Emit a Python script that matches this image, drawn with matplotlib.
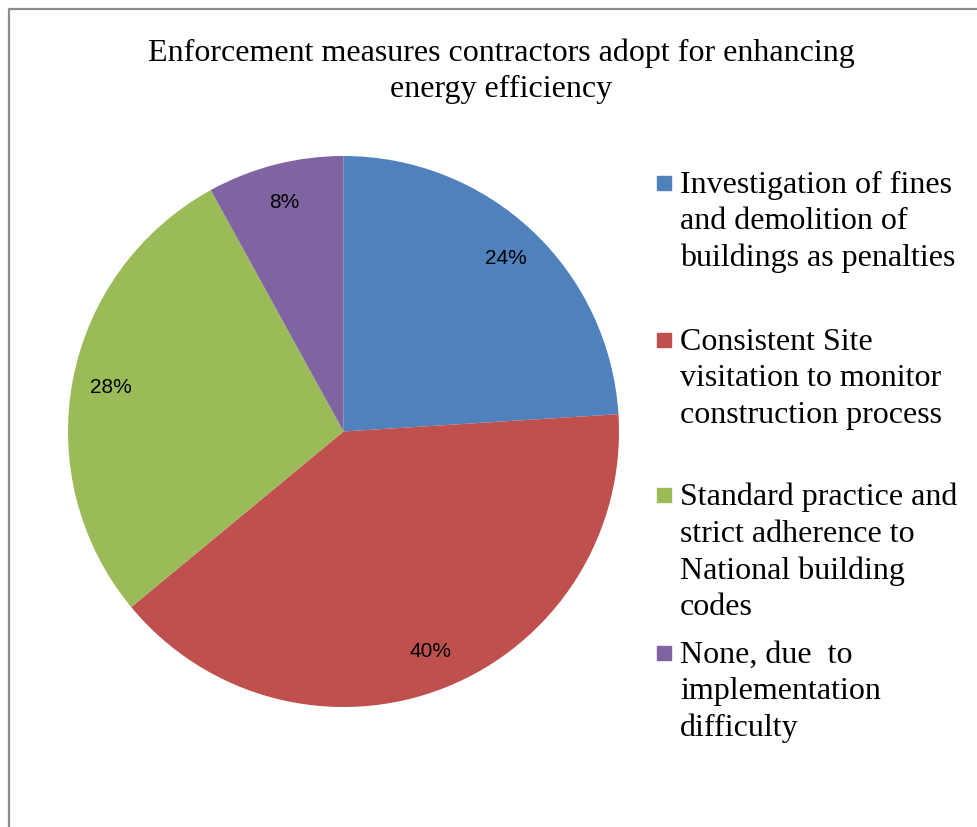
import matplotlib
matplotlib.use("Agg")
import matplotlib.pyplot as plt
from matplotlib.lines import Line2D
from matplotlib.patches import Rectangle

# survey shares for each enforcement measure
measures = [
    "Investigation of fines\nand demolition of\nbuildings as penalties",
    "Consistent Site\nvisitation to monitor\nconstruction process",
    "Standard practice and\nstrict adherence to\nNational building\ncodes",
    "None, due  to\nimplementation\ndifficulty",
]
shares = [24, 40, 28, 8]
colors = ["#4F81BD", "#C0504D", "#9BBB59", "#8064A2"]
title = "Enforcement measures contractors adopt for enhancing\nenergy efficiency"

W, H = 978, 827
fig = plt.figure(figsize=(W / 100, H / 100), dpi=100)

def fx(px):
    return px / W

def fy(py):
    return 1 - py / H

# chart frame (only left and top edges are visible)
fig.add_artist(Line2D([fx(8.5), fx(8.5), fx(W + 5)], [fy(H + 5), fy(8.5), fy(8.5)],
                      color="#8c8c8c", lw=1.6, transform=fig.transFigure))

fig.text(fx(501), fy(38), title, ha="center", va="top", fontsize=23,
         family="Liberation Serif", linespacing=1.33)

# pie
ax = fig.add_axes([fx(68), fy(707), fx(551), 551 / H])
ax.pie(shares, colors=colors, startangle=90, counterclock=False,
       autopct="%.0f%%", pctdistance=0.86,
       textprops=dict(fontsize=15, family="Liberation Sans", color="black"),
       wedgeprops=dict(linewidth=0))
ax.set_xlim(-1, 1)
ax.set_ylim(-1, 1)
ax.set_aspect("equal")
ax.axis("off")

# legend drawn by hand to keep the uneven spacing between entries
tops = [171, 328, 483, 641]
for label, c, yt in zip(measures, colors, tops):
    fig.add_artist(Rectangle((fx(657), fy(yt + 19)), fx(14), 14 / H, color=c,
                             transform=fig.transFigure))
    fig.text(fx(680), fy(yt), label, ha="left", va="top", fontsize=23,
             family="Liberation Serif", linespacing=1.33)

fig.savefig("out.png", dpi=100)
